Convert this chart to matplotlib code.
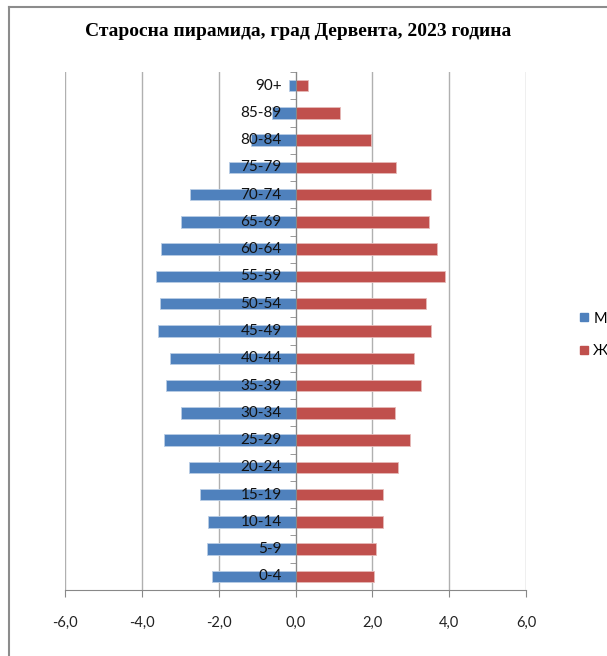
import matplotlib.pyplot as plt
from matplotlib.lines import Line2D
import numpy as np

# ======================================
# DATA (percent of population)
ages = ['0-4', '5-9', '10-14', '15-19', '20-24', '25-29', '30-34', '35-39',
        '40-44', '45-49', '50-54', '55-59', '60-64', '65-69', '70-74',
        '75-79', '80-84', '85-89', '90+']
male = [-2.18, -2.30, -2.27, -2.48, -2.78, -3.43, -2.98, -3.38,
        -3.26, -3.58, -3.54, -3.63, -3.51, -2.97, -2.74,
        -1.72, -1.15, -0.60, -0.16]
female = [2.04, 2.09, 2.29, 2.27, 2.67, 2.99, 2.60, 3.26,
          3.09, 3.54, 3.40, 3.88, 3.68, 3.48, 3.53,
          2.61, 1.97, 1.15, 0.32]
x_ticks = [-6, -4, -2, 0, 2, 4, 6]

# ======================================
# FIGURE
fig = plt.figure(figsize=(6.07, 6.56), dpi=100)
ax = fig.add_axes([65/607, 66/656, 461/607, 518/656])
font = ['Lato', 'DejaVu Sans']

y = np.arange(len(ages))
ax.barh(y, male, height=0.42, color='#4F81BD', edgecolor='#b9cde5', linewidth=0.6, zorder=3)
ax.barh(y, female, height=0.42, color='#C0504D', edgecolor='#e6b9b8', linewidth=0.6, zorder=3)

ax.set_xlim(-6, 6)
ax.set_ylim(-0.5, len(ages) - 0.5)
ax.set_xticks(x_ticks)
ax.set_xticklabels([f'{v:.1f}'.replace('.', ',') for v in x_ticks],
                   family=font, fontsize=10.5, color='#222222')
ax.tick_params(axis='x', length=5, color='#888888', pad=14)
ax.grid(axis='x', color='#b0b0b0', linewidth=1, zorder=0)

# category axis sits at zero, labels drawn on top of the bars
ax.spines['left'].set_position(('data', 0))
ax.spines['left'].set_color('#888888')
ax.spines['left'].set_zorder(4)
ax.spines['bottom'].set_color('#888888')
ax.spines['top'].set_visible(False)
ax.spines['right'].set_visible(False)
ax.set_yticks(y)
ax.set_yticklabels([])
ax.set_yticks(np.arange(len(ages) + 1) - 0.5, minor=True)
ax.tick_params(axis='y', which='major', length=0)
ax.tick_params(axis='y', which='minor', length=4, color='#888888')
for i, a in enumerate(ages):
    ax.annotate(a, (0, i), xytext=(-10, 0), textcoords='offset points',
                ha='right', va='center', family=font, fontsize=11,
                color='#111111', zorder=6)

# ======================================
# TITLE, LEGEND, FRAME
fig.text(298/607, 1 - 31/656, 'Старосна пирамида, град Дервента, 2023 година',
         ha='center', va='center', family='Liberation Serif',
         fontweight='bold', fontsize=14)
handles = [Line2D([], [], marker='s', linestyle='', color='#4F81BD', markersize=6),
           Line2D([], [], marker='s', linestyle='', color='#C0504D', markersize=6)]
fig.legend(handles, ['М', 'Ж'], loc='center left', bbox_to_anchor=(564/607, 1 - 335/656),
           frameon=False, prop={'family': font, 'size': 10.5},
           handletextpad=0.1, labelspacing=1.3, handlelength=1)

fig.add_artist(Line2D([9/607, 9/607], [0, 1 - 7/656], color='#8c8c8c', linewidth=1.5))
fig.add_artist(Line2D([9/607, 1], [1 - 7/656, 1 - 7/656], color='#8c8c8c', linewidth=1.5))

fig.savefig('out.png', dpi=100)
